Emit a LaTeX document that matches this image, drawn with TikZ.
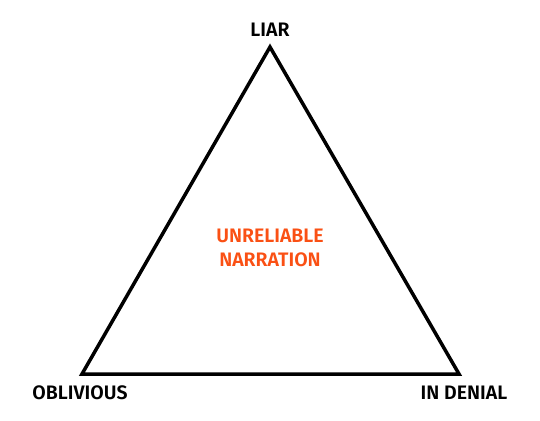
\documentclass[tikz,border=0pt]{standalone}
\usepackage{fontspec}
\setmainfont{Fira Sans}[BoldFont={Fira Sans SemiBold}]
\usepackage{tikz}
\usetikzlibrary{calc}

\definecolor{narrorange}{RGB}{250,80,20}

\begin{document}
\begin{tikzpicture}[x=1pt,y=1pt]
        % --- 1. Define Core Parameters ---
        \def\W{540}
        \def\H{420}
        \useasboundingbox (0,0) rectangle (\W,\H);

        \tikzset{
            corner/.style={font=\fontsize{19.5}{22}\selectfont\bfseries,text=black},
            centre/.style={font=\fontsize{19.5}{24}\selectfont\bfseries,text=narrorange,align=center}
        }

        % --- 2. Define Coordinates ---
        \coordinate (Top) at (270,373);
        \coordinate (Left) at (82,46);
        \coordinate (Right) at (459,46);

        % --- 3. Draw the Triangle ---
        \draw[line width=3.5pt,line join=miter] (Top) -- (Left) -- (Right) -- cycle;

        % --- 4. Label the Corners ---
        \node[corner] (liar) at (270,390) {LIAR};
        \node[corner] (oblivious) at (80,27) {OBLIVIOUS};
        \node[corner] (denial) at (464,27) {IN DENIAL};

        % --- 5. Centre Label ---
        \node[centre] (unreliable) at (270,172) {UNRELIABLE\\NARRATION};
\end{tikzpicture}
\end{document}
